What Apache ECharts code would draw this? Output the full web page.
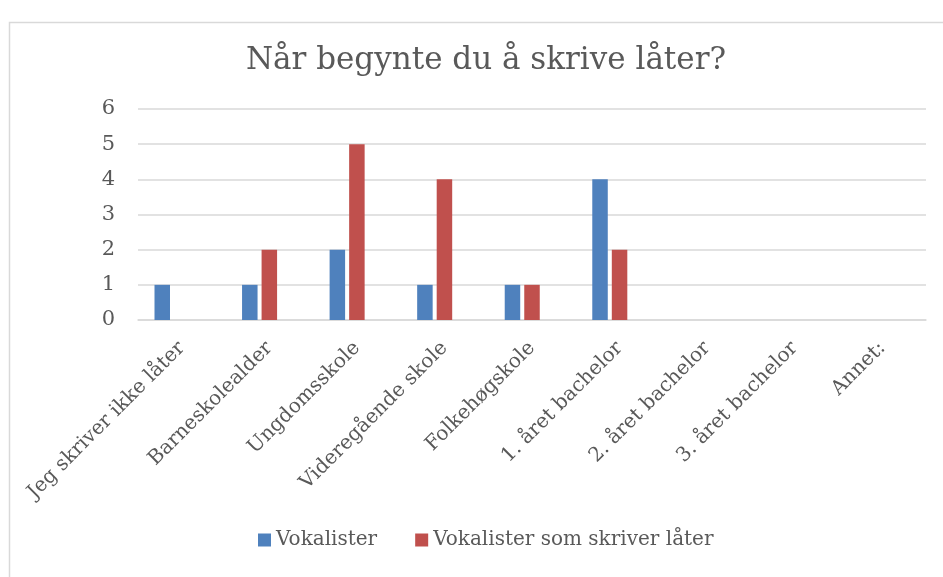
<!DOCTYPE html>
<html><head><meta charset="utf-8">
<script src="https://cdn.jsdelivr.net/npm/echarts@6/dist/echarts.min.js"></script>
<style>html,body{margin:0;padding:0;background:#fff}#c{width:943px;height:577px}</style>
</head><body><div id="c"></div>
<script>
const categories = ['Jeg skriver ikke låter','Barneskolealder','Ungdomsskole','Videregående skole','Folkehøgskole','1. året bachelor','2. året bachelor','3. året bachelor','Annet:'];
const vokalister = [1,1,2,1,1,4,null,null,null];
const vokalisterSomSkriver = [null,2,5,4,1,2,null,null,null];
const emptySeries = [null,null,null,null,null,null,null,null,null];
const yTicks = [0,1,2,3,4,5,6];

const FONT = '"DejaVu Serif", serif';
const TXT = '#595959';
const chart = echarts.init(document.getElementById('c'));
chart.setOption({
  animation:false,
  graphic:[{type:'rect',shape:{x:9.5,y:22.5,width:1000,height:1000},style:{fill:'none',stroke:'#d9d9d9',lineWidth:1.5},silent:true}],
  title:{text:'Når begynte du å skrive låter?',left:481,textAlign:'center',top:40,
    textStyle:{fontFamily:FONT,fontSize:31,fontWeight:'normal',color:TXT}},
  legend:{data:['Vokalister','Vokalister som skriver låter'],bottom:22,itemWidth:13,itemHeight:13,itemGap:38,
    icon:'rect',textStyle:{fontFamily:FONT,fontSize:20,color:TXT},left:253},
  grid:{left:138,right:17,top:109,bottom:257,containLabel:false},
  xAxis:{type:'category',data:categories,
    axisLine:{show:true,lineStyle:{color:'#d9d9d9',width:1.5}},axisTick:{show:false},
    axisLabel:{rotate:45,interval:0,margin:25,fontFamily:FONT,fontSize:20,color:TXT}},
  yAxis:{type:'value',min:0,max:6,interval:1,
    axisLine:{show:false},axisTick:{show:false},
    splitLine:{lineStyle:{color:'#d9d9d9',width:1.5}},
    axisLabel:{margin:23,fontFamily:FONT,fontSize:21,color:TXT,formatter:v=>yTicks.includes(v)?String(v):''}},
  series:[
    {name:'Vokalister',type:'bar',data:vokalister,barWidth:15.5,barGap:'26%',itemStyle:{color:'#4f81bd'}},
    {name:'Vokalister som skriver låter',type:'bar',data:vokalisterSomSkriver,barWidth:15.5,barGap:'26%',itemStyle:{color:'#c0504d'}},
    {name:'',type:'bar',data:emptySeries,barWidth:15.5,barGap:'26%',itemStyle:{color:'#9bbb59'}}
  ]
});
</script></body></html>
